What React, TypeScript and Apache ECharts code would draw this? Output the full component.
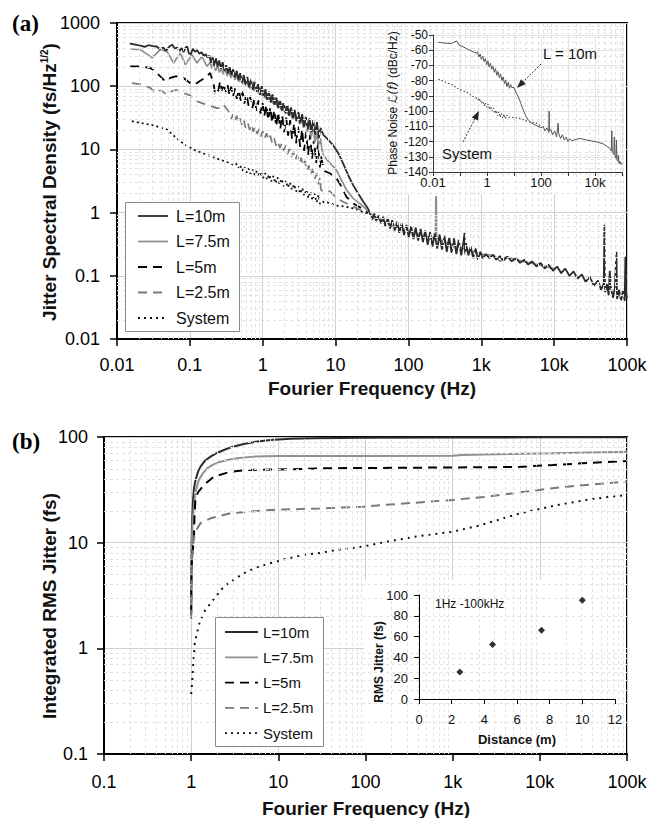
import React, { useEffect, useRef } from 'react';
import * as echarts from 'echarts';

type P = [number, number];

// ---------- DATA ----------
const seriesNames = ['L=10m', 'L=7.5m', 'L=5m', 'L=2.5m', 'System'];

// tick labels per decade
const freqTickLabels = ['0.01', '0.1', '1', '10', '100', '1k', '10k', '100k']; // 1e-2 .. 1e5
const psdTickLabels = ['0.01', '0.1', '1', '10', '100', '1000']; // 1e-2 .. 1e3
const rmsTickLabels = ['0.1', '1', '10', '100']; // 1e-1 .. 1e2
const insetFreqLabels = ['0.01', '', '1', '', '100', '', '10k', '']; // 1e-2 .. 1e5

// (a) jitter spectral density, fs/Hz^1/2
const psd10m: P[] = [
  [0.015, 470], [0.018, 455], [0.021, 440], [0.024, 420], [0.027, 445], [0.031, 430], [0.035, 425], [0.039, 385],
  [0.043, 410], [0.047, 365], [0.052, 420], [0.057, 455], [0.062, 395], [0.067, 410], [0.072, 360], [0.077, 400],
  [0.082, 345], [0.087, 405], [0.092, 425], [0.097, 330], [0.103, 320], [0.11, 390], [0.118, 350], [0.126, 370],
  [0.135, 325], [0.145, 345], [0.155, 300], [0.165, 320], [0.175, 285],
  [0.185, 305], [0.195, 235], [0.205, 290], [0.215, 215], [0.228, 275], [0.24, 205], [0.253, 255], [0.267, 190],
  [0.282, 240], [0.298, 175], [0.315, 215], [0.333, 160], [0.352, 200], [0.372, 150], [0.393, 185], [0.415, 138],
  [0.44, 175], [0.465, 125], [0.49, 160], [0.52, 115], [0.55, 150], [0.58, 105], [0.615, 140], [0.65, 96],
  [0.69, 128], [0.73, 88], [0.77, 118], [0.815, 80], [0.865, 108], [0.915, 73], [0.97, 100], [1.03, 67],
  [1.09, 90], [1.15, 61], [1.22, 82], [1.29, 55], [1.37, 74], [1.45, 50], [1.54, 66], [1.63, 45],
  [1.73, 60], [1.83, 41], [1.94, 54], [2.06, 37], [2.18, 50], [2.31, 34], [2.45, 46], [2.6, 31],
  [2.75, 42], [2.92, 28], [3.1, 39], [3.28, 26], [3.48, 36], [3.69, 23], [3.91, 33], [4.15, 21],
  [4.4, 31], [4.66, 19], [4.94, 29], [5.24, 17], [5.55, 27], [5.9, 15], [6.2, 22],
  [6.8, 17], [7.8, 14.5], [8.8, 12.5], [9.8, 10.5], [10.9, 8.7], [12.7, 6.0], [14.9, 3.9], [17.5, 2.7],
  [20.4, 2.0], [23.9, 1.5], [28, 1.15],
];
const psdTail: P[] = [
  [30, 0.95], [32, 0.78], [34, 0.97], [36, 0.74], [39, 0.9], [42, 0.68], [45, 0.86], [48, 0.61], [52, 0.82],
  [56, 0.56], [60, 0.76], [65, 0.52], [70, 0.72], [75, 0.48], [81, 0.68], [87, 0.44], [94, 0.64], [101, 0.41],
  [109, 0.61], [117, 0.38], [126, 0.58], [136, 0.36], [147, 0.55], [158, 0.34], [170, 0.52], [184, 0.31],
  [198, 0.49], [214, 0.29], [230, 0.47], [248, 0.27], [268, 0.45], [289, 0.26], [312, 0.43], [336, 0.24],
  [363, 0.41], [391, 0.23], [422, 0.39], [455, 0.22], [491, 0.37], [530, 0.21], [571, 0.35], [590, 0.48],
  [600, 0.22], [616, 0.33], [665, 0.21], [717, 0.29], [774, 0.19], [835, 0.27], [900, 0.18], [970, 0.24],
  [1050, 0.19], [1150, 0.22], [1300, 0.19], [1450, 0.215], [1600, 0.18], [1800, 0.205], [2000, 0.175],
  [2300, 0.2], [2600, 0.17], [3000, 0.19], [3400, 0.16], [3900, 0.18], [4400, 0.15], [5000, 0.17],
  [5700, 0.14], [6500, 0.16], [7400, 0.13], [8400, 0.15], [9600, 0.12], [11000, 0.14], [12500, 0.11],
  [14200, 0.13], [16200, 0.1], [18500, 0.117], [21000, 0.09], [24000, 0.105], [27000, 0.08], [31000, 0.096],
  [35000, 0.07], [40000, 0.084], [44000, 0.06], [48000, 0.076], [49000, 0.64], [50000, 0.055], [53000, 0.074],
  [56000, 0.049], [58000, 0.12], [60000, 0.066], [64000, 0.045], [68000, 0.062], [71600, 0.24], [73000, 0.043],
  [78000, 0.06], [83000, 0.041], [88000, 0.058], [93000, 0.04], [95000, 0.2], [97000, 0.055], [100000, 0.044],
];
const psd75m: P[] = [
  [0.0152, 388], [0.0209, 379], [0.025, 330], [0.0302, 280], [0.035, 330], [0.0393, 379], [0.0485, 356],
  [0.0598, 233], [0.0739, 335], [0.0867, 219], [0.107, 316], [0.125, 233], [0.146, 296], [0.172, 206],
  [0.19, 240], [0.2, 190], [0.212, 225], [0.225, 175], [0.24, 210], [0.255, 165], [0.27, 200], [0.287, 155],
  [0.305, 185], [0.325, 145], [0.345, 172], [0.367, 135], [0.39, 160], [0.415, 126], [0.44, 150], [0.468, 117],
  [0.497, 140], [0.528, 108], [0.56, 130], [0.596, 100], [0.633, 120], [0.672, 92], [0.714, 110], [0.758, 85],
  [0.805, 102], [0.855, 78], [0.908, 94], [0.964, 71], [1.02, 87], [1.09, 64], [1.15, 80], [1.23, 58],
  [1.3, 72], [1.38, 53], [1.47, 66], [1.56, 48], [1.66, 60], [1.76, 43], [1.87, 54], [1.98, 39],
  [2.1, 49], [2.24, 35], [2.38, 44], [2.52, 31], [2.68, 40], [2.85, 28], [3.02, 35], [3.21, 25],
  [3.41, 31], [3.62, 22], [3.85, 28], [4.09, 19], [4.34, 25], [4.61, 16], [4.9, 21], [5.2, 13],
  [5.52, 18], [5.87, 11], [6.2, 15], [6.5, 10],
  [6.8, 8.1], [8, 6.4], [10.3, 4.7], [12, 3.3], [14.1, 2.3], [17.4, 1.68], [21.4, 1.4], [26, 1.15], [30, 0.95],
  [40, 0.78], [60, 0.62], [100, 0.5], [160, 0.43], [220, 0.4], [235, 0.42], [238, 1.8], [241, 1.75], [244, 0.4],
  [300, 0.35], [500, 0.28], [1000, 0.22], [1500, 0.21], [1800, 0.17], [2200, 0.2], [3000, 0.18], [10000, 0.13],
];
const psd5m: P[] = [
  [0.0152, 206], [0.0209, 206], [0.0287, 194], [0.0336, 172], [0.0393, 143], [0.046, 119], [0.0538, 135],
  [0.063, 143], [0.0739, 143], [0.082, 135], [0.107, 106], [0.125, 112], [0.146, 126], [0.172, 143],
  [0.19, 162], [0.211, 112], [0.223, 73], [0.248, 88],
  [0.26, 120], [0.275, 85], [0.29, 110], [0.31, 78], [0.33, 104], [0.35, 72], [0.37, 98], [0.39, 68],
  [0.415, 92], [0.44, 63], [0.47, 88], [0.5, 58], [0.53, 82], [0.56, 53], [0.6, 76], [0.64, 49],
  [0.68, 70], [0.72, 45], [0.77, 65], [0.82, 41], [0.87, 60], [0.93, 37], [0.99, 56], [1.05, 33],
  [1.12, 51], [1.19, 29], [1.27, 47], [1.35, 26], [1.44, 43], [1.53, 23], [1.63, 39], [1.74, 21],
  [1.85, 35], [1.97, 18.5], [2.1, 32], [2.23, 16.5], [2.38, 29], [2.53, 14.5], [2.7, 26], [2.87, 12.5],
  [3.06, 23], [3.26, 11], [3.47, 21], [3.7, 9.5], [3.94, 19], [4.2, 8.2], [4.47, 17], [4.76, 7],
  [5.07, 15], [5.4, 6], [5.75, 13], [6.1, 5.2], [6.3, 8],
  [6.9, 4.6], [8.3, 4.2], [10.3, 3.5], [12, 2.6], [14.1, 1.78], [17.4, 1.4], [22, 1.2], [28, 1.0],
];
const psd25m: P[] = [
  [0.0161, 112], [0.022, 106], [0.0287, 94], [0.0336, 78], [0.0393, 88], [0.0485, 73], [0.0567, 83],
  [0.0664, 88], [0.082, 78], [0.096, 73], [0.113, 65], [0.125, 58], [0.146, 54], [0.172, 51], [0.2, 48],
  [0.236, 45], [0.262, 45], [0.29, 51], [0.324, 43],
  [0.35, 38], [0.37, 30], [0.39, 36], [0.415, 28], [0.44, 34], [0.465, 26], [0.49, 31], [0.52, 24],
  [0.55, 29], [0.58, 22], [0.62, 27], [0.66, 20.5], [0.7, 25], [0.74, 19], [0.79, 23], [0.84, 17.5],
  [0.89, 21], [0.94, 16], [1.0, 19.5], [1.06, 15], [1.13, 18], [1.2, 14], [1.27, 16.5], [1.35, 12.5],
  [1.43, 15], [1.52, 11.5], [1.62, 13.5], [1.72, 10.5], [1.83, 12.5], [1.94, 9.5], [2.06, 11.5], [2.19, 8.5],
  [2.33, 10.2], [2.48, 7.6], [2.63, 9.2], [2.8, 6.8], [2.98, 8.2], [3.17, 6.1], [3.37, 7.4], [3.58, 5.4],
  [3.81, 6.6], [4.05, 4.6], [4.3, 5.6], [4.57, 4.0], [4.86, 4.9], [5.17, 3.4], [5.5, 4.2], [5.85, 2.8],
  [6.1, 3.6], [6.3, 2.3],
  [7, 2.1], [8.3, 2.2], [10.3, 1.68], [12.7, 1.49], [16, 1.3], [22, 1.1], [28, 0.98],
];
const psdSys: P[] = [
  [0.016, 28], [0.022, 26], [0.032, 24], [0.04, 22], [0.049, 20.5], [0.06, 16.5], [0.074, 13.4], [0.09, 11.5],
  [0.113, 9.9], [0.14, 9], [0.17, 8.3], [0.21, 7.5], [0.26, 6.9], [0.32, 6.3], [0.4, 5.7],
  [0.43, 6.0], [0.46, 5.0], [0.49, 5.6], [0.52, 4.6], [0.56, 5.3], [0.6, 4.3], [0.64, 5.0], [0.68, 4.1],
  [0.73, 4.8], [0.78, 3.9], [0.83, 4.6], [0.89, 3.7], [0.95, 4.4], [1.01, 3.5], [1.08, 4.2], [1.15, 3.3],
  [1.23, 4.0], [1.31, 3.1], [1.4, 3.8], [1.5, 2.9], [1.6, 3.6], [1.71, 2.8], [1.82, 3.4], [1.94, 2.6],
  [2.07, 3.2], [2.21, 2.5], [2.36, 3.0], [2.52, 2.3], [2.69, 2.8], [2.87, 2.15], [3.06, 2.6], [3.27, 2.0],
  [3.49, 2.45], [3.72, 1.85], [3.97, 2.3], [4.24, 1.7], [4.52, 2.15], [4.82, 1.55], [5.14, 2.0], [5.48, 1.45],
  [5.85, 1.9], [6.1, 1.35],
  [7, 1.5], [8.5, 1.4], [10, 1.3], [13, 1.25], [16, 1.2], [20, 1.1], [25, 1.0], [30, 0.95],
];

// (a) inset: phase noise, dBc/Hz
const pn10m: P[] = [
  [0.0157, -54.8], [0.025, -55.2], [0.035, -55.5], [0.049, -55.5], [0.065, -54.4], [0.076, -54], [0.09, -56.5],
  [0.13, -57.7], [0.2, -59.5], [0.3, -61], [0.42, -62],
  [0.45, -61], [0.5, -64.5], [0.56, -62.5], [0.62, -66], [0.7, -64], [0.78, -67.5], [0.87, -65.5], [0.97, -69.5],
  [1.08, -67], [1.2, -71], [1.34, -68.5], [1.5, -72.5], [1.67, -70.5], [1.86, -74.5], [2.07, -72], [2.3, -76.5],
  [2.57, -74], [2.86, -78], [3.19, -75.5], [3.55, -80], [3.96, -77.5], [4.41, -82], [4.91, -79.5], [5.47, -84],
  [6.1, -81], [6.8, -85], [7.5, -82.5], [8.2, -84.5],
  [10, -84.5], [12, -88], [14.4, -90.6], [18, -95], [22, -99.3], [27, -103], [34, -106], [45, -108], [69, -109.5],
  [100, -111],
  [120, -110], [140, -113], [165, -111], [195, -114], [200, -100], [205, -113], [230, -112], [270, -115.5],
  [320, -113], [380, -117], [430, -108], [450, -114.5], [530, -118], [620, -115.5], [730, -119], [860, -117],
  [1000, -120], [1150, -118], [1380, -119.5],
  [2000, -118.5], [2770, -118], [5000, -119], [11400, -120.2], [20000, -121.5], [30000, -123.5], [36000, -124.6],
  [40000, -126], [42000, -113], [44000, -127], [50000, -128.5], [52000, -117], [55000, -129.5], [60000, -131],
  [62000, -119], [65000, -132], [70000, -133], [73000, -129], [78000, -134.5], [85000, -133], [92000, -135],
  [100000, -134],
];
const pnSys: P[] = [
  [0.0157, -79], [0.025, -80.5], [0.04, -82], [0.056, -83], [0.08, -85], [0.12, -86.5], [0.18, -87.5],
  [0.28, -90], [0.4, -91.5],
  [0.45, -91], [0.5, -93.5], [0.56, -92], [0.63, -95], [0.7, -93.5], [0.79, -96.5], [0.88, -94.5], [0.99, -97.5],
  [1.1, -95.5], [1.24, -99], [1.39, -97], [1.55, -100], [1.74, -98], [1.95, -101.5], [2.18, -99.5], [2.44, -103],
  [2.73, -100.5], [3.06, -104], [3.42, -101.5], [3.83, -104.5], [4.29, -102], [4.8, -105], [5.4, -102.5], [6, -104],
  [10, -104.2], [16.6, -104.8], [30, -106.5], [69, -108], [100, -110],
];

// (b) integrated RMS jitter, fs
const rms10m: P[] = [
  [1, 2.2], [1.003, 5], [1.01, 9], [1.02, 14], [1.05, 25], [1.074, 32], [1.12, 39], [1.2, 47], [1.28, 52.4],
  [1.45, 60], [1.67, 65.2], [2, 71], [2.37, 75.4], [3, 81], [4.02, 85.9], [5.5, 90], [8.1, 93.7], [13.7, 96],
  [25, 97.5], [100, 98.3], [1000, 98.8], [10000, 99.2], [100000, 99.6],
];
const rms75m: P[] = [
  [1, 2.3], [1.005, 5], [1.015, 10], [1.04, 16], [1.074, 21.9], [1.12, 30], [1.22, 39], [1.35, 45], [1.53, 50.6],
  [1.8, 55], [2.17, 58.4], [2.7, 61], [3.37, 62.9], [5.2, 65.2], [10.6, 66.2], [30, 66], [100, 66], [1000, 66.3],
  [1300, 67.5], [3000, 68.5], [14000, 70.2], [40000, 71.5], [100000, 72.6],
];
const rms5m: P[] = [
  [1, 2.1], [1.005, 4], [1.02, 7], [1.05, 9], [1.074, 10.6], [1.09, 17], [1.117, 25.4], [1.2, 30], [1.4, 35.2],
  [1.82, 42.1], [2.83, 47], [4.38, 48.7], [19.5, 49.8], [30, 50.6], [1000, 51.5], [5400, 52], [14000, 54.3],
  [40000, 57], [100000, 59.3],
];
const rms25m: P[] = [
  [1, 1.9], [1.01, 3.5], [1.02, 6.4], [1.05, 9.5], [1.1, 12.5], [1.28, 15.3], [1.67, 17], [2.83, 19], [8.1, 20.4],
  [29.8, 21.1], [95, 21.9], [173, 22.8], [1000, 25.4], [2420, 27.2], [14000, 32.8], [33900, 35.2], [100000, 37.8],
];
const rmsSys: P[] = [
  [1.0, 0.37], [1.03, 0.5], [1.05, 0.67], [1.08, 0.9], [1.1, 1.12], [1.18, 1.45], [1.26, 1.8], [1.45, 2.3],
  [1.67, 2.67], [1.79, 2.87], [2.37, 3.84], [3, 4.4], [4.02, 5.13], [5.5, 5.8], [8.1, 6.38], [12, 7], [19.5, 7.66],
  [30, 8], [47, 8.53], [95, 9.2], [173, 10.2], [400, 11.5], [1000, 12.7], [2000, 14.5], [3000, 16], [6000, 19],
  [15000, 22.5], [34000, 25.4], [60000, 27], [100000, 28.2],
];

// (b) inset: RMS jitter 1Hz-100kHz vs distance
const distances = [2.5, 4.5, 7.5, 10];
const rmsTotal = [26, 52.5, 66, 95];

// ---------- STYLES ----------
const F = "'Liberation Sans', Arial, Helvetica, sans-serif";
const lineColors = ['#2b2b2b', '#8f8f8f', '#000000', '#7a7a7a', '#111111'];
const dashTypes: any[] = ['solid', 'solid', [9, 6], [9, 6], [2, 4]];
const noiseWidths = [1.8, 1.7, 1.8, 1.7, 1.8];

function decadeLabel(labels: string[], startExp: number) {
  return (v: number) => {
    const e = Math.round(Math.log10(v));
    const s = labels[e - startExp];
    return s === undefined ? '' : s;
  };
}

function minorLines(axis: 'xAxis' | 'yAxis', fromExp: number, toExp: number) {
  const out: any[] = [];
  for (let e = fromExp; e < toExp; e++) {
    for (let m = 2; m <= 9; m++) out.push({ [axis]: m * Math.pow(10, e) });
  }
  return out;
}

function mainAxis(gridIndex: number, min: number, max: number, labels: string[], startExp: number, margin: number) {
  return {
    gridIndex,
    type: 'log',
    logBase: 10,
    min,
    max,
    axisLine: { show: true, onZero: false, lineStyle: { color: '#000', width: 2 } },
    axisTick: { show: true, length: 7, lineStyle: { color: '#000', width: 1.5 } },
    axisLabel: { formatter: decadeLabel(labels, startExp), color: '#000', fontSize: 18, fontFamily: F, margin },
    splitLine: { show: true, lineStyle: { color: '#d0d0d0', width: 1 } },
    z: 0,
  };
}

function minorGridSeries(xi: number, fromX: number, toX: number, fromY: number, toY: number) {
  return {
    type: 'line',
    xAxisIndex: xi,
    yAxisIndex: xi,
    data: [[Math.pow(10, fromX), Math.pow(10, fromY)]],
    symbol: 'none',
    showSymbol: false,
    lineStyle: { opacity: 0 },
    silent: true,
    z: 1,
    markLine: {
      silent: true,
      animation: false,
      symbol: ['none', 'none'],
      label: { show: false },
      lineStyle: { color: '#e2e2e2', width: 1, type: [3, 3] },
      emphasis: { disabled: true },
      data: [...minorLines('xAxis', fromX, toX), ...minorLines('yAxis', fromY, toY)],
    },
  };
}

function legendGraphics(x0: number, y0: number, w: number, h: number, firstY: number, step: number,
  lx1: number, lx2: number, tx: number, fontSize: number, lw: number) {
  const els: any[] = [
    { type: 'rect', shape: { x: x0, y: y0, width: w, height: h }, style: { fill: '#fff', stroke: '#8a8a8a', lineWidth: 1 }, z: 10 },
  ];
  seriesNames.forEach((n, i) => {
    const y = firstY + i * step;
    const dash = dashTypes[i] === 'solid' ? null : dashTypes[i];
    els.push({
      type: 'line', shape: { x1: lx1, y1: y, x2: lx2, y2: y },
      style: { stroke: lineColors[i], lineWidth: lw, lineDash: dash }, z: 11,
    });
    els.push({
      type: 'text', x: tx, y,
      style: { text: n, fill: '#111', fontSize, fontFamily: F, align: 'left', verticalAlign: 'middle' }, z: 11,
    });
  });
  return els;
}

function arrow(x1: number, y1: number, x2: number, y2: number) {
  const dx = x2 - x1, dy = y2 - y1;
  const L = Math.sqrt(dx * dx + dy * dy);
  const ux = dx / L, uy = dy / L;
  const bx = x2 - ux * 9, by = y2 - uy * 9;
  const px = -uy * 3.5, py = ux * 3.5;
  return [
    { type: 'line', shape: { x1, y1, x2: bx, y2: by }, style: { stroke: '#333', lineWidth: 1, lineDash: [2, 1.5] }, z: 9 },
    { type: 'polygon', shape: { points: [[x2, y2], [bx + px, by + py], [bx - px, by - py]] }, style: { fill: '#222' }, z: 9 },
  ];
}

export default function App() {
  const ref = useRef<HTMLDivElement>(null);
  useEffect(() => {
    if (!ref.current) return;
    const chart = echarts.init(ref.current, null, { renderer: 'svg', width: 653, height: 818 });

    const mainA = [
      [...psd10m, ...psdTail], psd75m, psd5m, psd25m, psdSys,
    ];
    const mainB = [rms10m, rms75m, rms5m, rms25m, rmsSys];

    const series: any[] = [
      minorGridSeries(0, -2, 5, -2, 3),
      minorGridSeries(2, -1, 5, -1, 2),
    ];
    mainA.forEach((d, i) => {
      series.push({
        name: seriesNames[i], type: 'line', xAxisIndex: 0, yAxisIndex: 0, data: d,
        symbol: 'none', showSymbol: false, silent: true, z: 3 + (4 - i) * 0.01,
        lineStyle: { color: lineColors[i], width: noiseWidths[i], type: i === 4 ? [2, 3] : dashTypes[i] },
      });
    });
    mainB.forEach((d, i) => {
      series.push({
        name: seriesNames[i], type: 'line', xAxisIndex: 2, yAxisIndex: 2, data: d,
        symbol: 'none', showSymbol: false, silent: true, z: 3,
        lineStyle: { color: lineColors[i], width: 2, type: i === 4 ? [2, 5] : dashTypes[i] },
      });
    });
    series.push({
      name: 'L = 10m (phase noise)', type: 'line', xAxisIndex: 1, yAxisIndex: 1, data: pn10m,
      symbol: 'none', showSymbol: false, silent: true, z: 7,
      lineStyle: { color: '#555', width: 1 },
    });
    series.push({
      name: 'System (phase noise)', type: 'line', xAxisIndex: 1, yAxisIndex: 1, data: pnSys,
      symbol: 'none', showSymbol: false, silent: true, z: 7,
      lineStyle: { color: '#444', width: 1.1, type: [1.5, 2] },
    });
    series.push({
      name: 'RMS jitter', type: 'scatter', xAxisIndex: 3, yAxisIndex: 3,
      data: distances.map((d, i) => [d, rmsTotal[i]]),
      symbol: 'diamond', symbolSize: 7, itemStyle: { color: '#000' }, silent: true, z: 7,
    });

    const graphic: any[] = [
      // inset backgrounds
      { type: 'rect', shape: { x: 382, y: 24, width: 244, height: 170 }, style: { fill: '#fff' }, z: 5 },
      { type: 'rect', shape: { x: 364, y: 580, width: 262, height: 172 }, style: { fill: '#fff' }, z: 5 },
      // panel labels
      { type: 'text', x: 12, y: 23, style: { text: '(a)', fill: '#000', fontSize: 23, fontWeight: 'bold', fontFamily: "'Liberation Serif', 'Times New Roman', serif", align: 'left', verticalAlign: 'middle' }, z: 10 },
      { type: 'text', x: 12, y: 441, style: { text: '(b)', fill: '#000', fontSize: 23, fontWeight: 'bold', fontFamily: "'Liberation Serif', 'Times New Roman', serif", align: 'left', verticalAlign: 'middle' }, z: 10 },
      // axis titles
      {
        type: 'text', x: 49, y: 182, rotation: Math.PI / 2,
        style: {
          text: '{a|Jitter Spectral Density (fs/Hz}{s|1/2}{a|)}', align: 'center', verticalAlign: 'middle',
          rich: {
            a: { fontSize: 19, fontWeight: 'bold', fontFamily: F, fill: '#111' },
            s: { fontSize: 10, fontWeight: 'bold', fontFamily: F, fill: '#111', verticalAlign: 'top' },
          },
        }, z: 10,
      },
      { type: 'text', x: 372, y: 388, style: { text: 'Fourier Frequency (Hz)', fill: '#111', fontSize: 19, fontWeight: 'bold', fontFamily: F, align: 'center', verticalAlign: 'middle' }, z: 10 },
      { type: 'text', x: 49, y: 606, rotation: Math.PI / 2, style: { text: 'Integrated RMS Jitter (fs)', fill: '#111', fontSize: 19, fontWeight: 'bold', fontFamily: F, align: 'center', verticalAlign: 'middle' }, z: 10 },
      { type: 'text', x: 366, y: 808, style: { text: 'Fourier Frequency (Hz)', fill: '#111', fontSize: 19, fontWeight: 'bold', fontFamily: F, align: 'center', verticalAlign: 'middle' }, z: 10 },
      // inset (a) texts
      {
        type: 'text', x: 393, y: 103, rotation: Math.PI / 2,
        style: {
          text: '{a|Phase Noise }{i|ℒ(f)}{a| (dBc/Hz)}', align: 'center', verticalAlign: 'middle',
          rich: {
            a: { fontSize: 12, fontFamily: F, fill: '#111' },
            i: { fontSize: 12, fontFamily: "'DejaVu Sans', " + F, fontStyle: 'italic', fill: '#111' },
          },
        }, z: 10,
      },
      { type: 'text', x: 543, y: 53, style: { text: 'L = 10m', fill: '#111', fontSize: 15, fontFamily: F, align: 'left', verticalAlign: 'middle' }, z: 10 },
      { type: 'text', x: 442, y: 153, style: { text: 'System', fill: '#111', fontSize: 15, fontFamily: F, align: 'left', verticalAlign: 'middle' }, z: 10 },
      ...arrow(541, 64, 517, 88),
      ...arrow(463, 142, 479, 111),
      // inset (b) texts
      { type: 'text', x: 435, y: 604, style: { text: '1Hz -100kHz', fill: '#111', fontSize: 12, fontFamily: F, align: 'left', verticalAlign: 'middle' }, z: 10 },
      { type: 'text', x: 379, y: 662, rotation: Math.PI / 2, style: { text: 'RMS Jitter (fs)', fill: '#111', fontSize: 12, fontWeight: 'bold', fontFamily: F, align: 'center', verticalAlign: 'middle' }, z: 10 },
      { type: 'text', x: 517, y: 739, style: { text: 'Distance (m)', fill: '#111', fontSize: 13, fontWeight: 'bold', fontFamily: F, align: 'center', verticalAlign: 'middle' }, z: 10 },
      // legends
      ...legendGraphics(125.5, 202.5, 114, 129, 216, 25.5, 138, 168, 176, 16, 1.8),
      ...legendGraphics(215.5, 617.5, 108, 129, 632, 25.3, 225, 258, 263, 15, 1.8),
    ];

    chart.setOption({
      animation: false,
      backgroundColor: '#fff',
      grid: [
        { left: 117, top: 23, width: 510, height: 316, show: true, borderColor: '#000', borderWidth: 2, backgroundColor: 'transparent' },
        { left: 433, top: 35, width: 189, height: 137 },
        { left: 104, top: 437, width: 523, height: 317, show: true, borderColor: '#000', borderWidth: 2, backgroundColor: 'transparent' },
        { left: 419, top: 595, width: 196, height: 104 },
      ],
      xAxis: [
        mainAxis(0, 0.01, 100000, freqTickLabels, -2, 17),
        {
          gridIndex: 1, type: 'log', logBase: 10, min: 0.01, max: 100000,
          axisLine: { show: true, onZero: false, lineStyle: { color: '#333', width: 1 } },
          axisTick: { show: true, length: 4, lineStyle: { color: '#333' } },
          axisLabel: { formatter: decadeLabel(insetFreqLabels, -2), color: '#111', fontSize: 13, fontFamily: F, margin: 4 },
          splitLine: { show: true, lineStyle: { color: '#e4e4e4' } },
          z: 6,
        },
        mainAxis(2, 0.1, 100000, freqTickLabels, -2, 19),
        {
          gridIndex: 3, type: 'value', min: 0, max: 12, interval: 2,
          axisLine: { show: true, onZero: false, lineStyle: { color: '#000', width: 1 } },
          axisTick: { show: true, length: 5, lineStyle: { color: '#000' } },
          axisLabel: { color: '#111', fontSize: 13, fontFamily: F, margin: 14 },
          splitLine: { show: false },
          z: 6,
        },
      ],
      yAxis: [
        mainAxis(0, 0.01, 1000, psdTickLabels, -2, 17),
        {
          gridIndex: 1, type: 'value', min: -140, max: -50, interval: 10,
          axisLine: { show: true, onZero: false, lineStyle: { color: '#333', width: 1 } },
          axisTick: { show: true, length: 4, lineStyle: { color: '#333' } },
          axisLabel: { color: '#111', fontSize: 12, fontFamily: F, margin: 5 },
          splitLine: { show: true, lineStyle: { color: '#e4e4e4' } },
          z: 6,
        },
        mainAxis(2, 0.1, 100, rmsTickLabels, -1, 16),
        {
          gridIndex: 3, type: 'value', min: 0, max: 100, interval: 20,
          axisLine: { show: true, onZero: false, lineStyle: { color: '#000', width: 1 } },
          axisTick: { show: true, length: 5, lineStyle: { color: '#000' } },
          axisLabel: { color: '#111', fontSize: 13, fontFamily: F, margin: 11 },
          splitLine: { show: false },
          z: 6,
        },
      ],
      series,
      graphic: { elements: graphic },
    });

    return () => chart.dispose();
  }, []);

  return <div ref={ref} style={{ position: 'absolute', left: 0, top: 0, width: 653, height: 818, background: '#fff' }} />;
}
